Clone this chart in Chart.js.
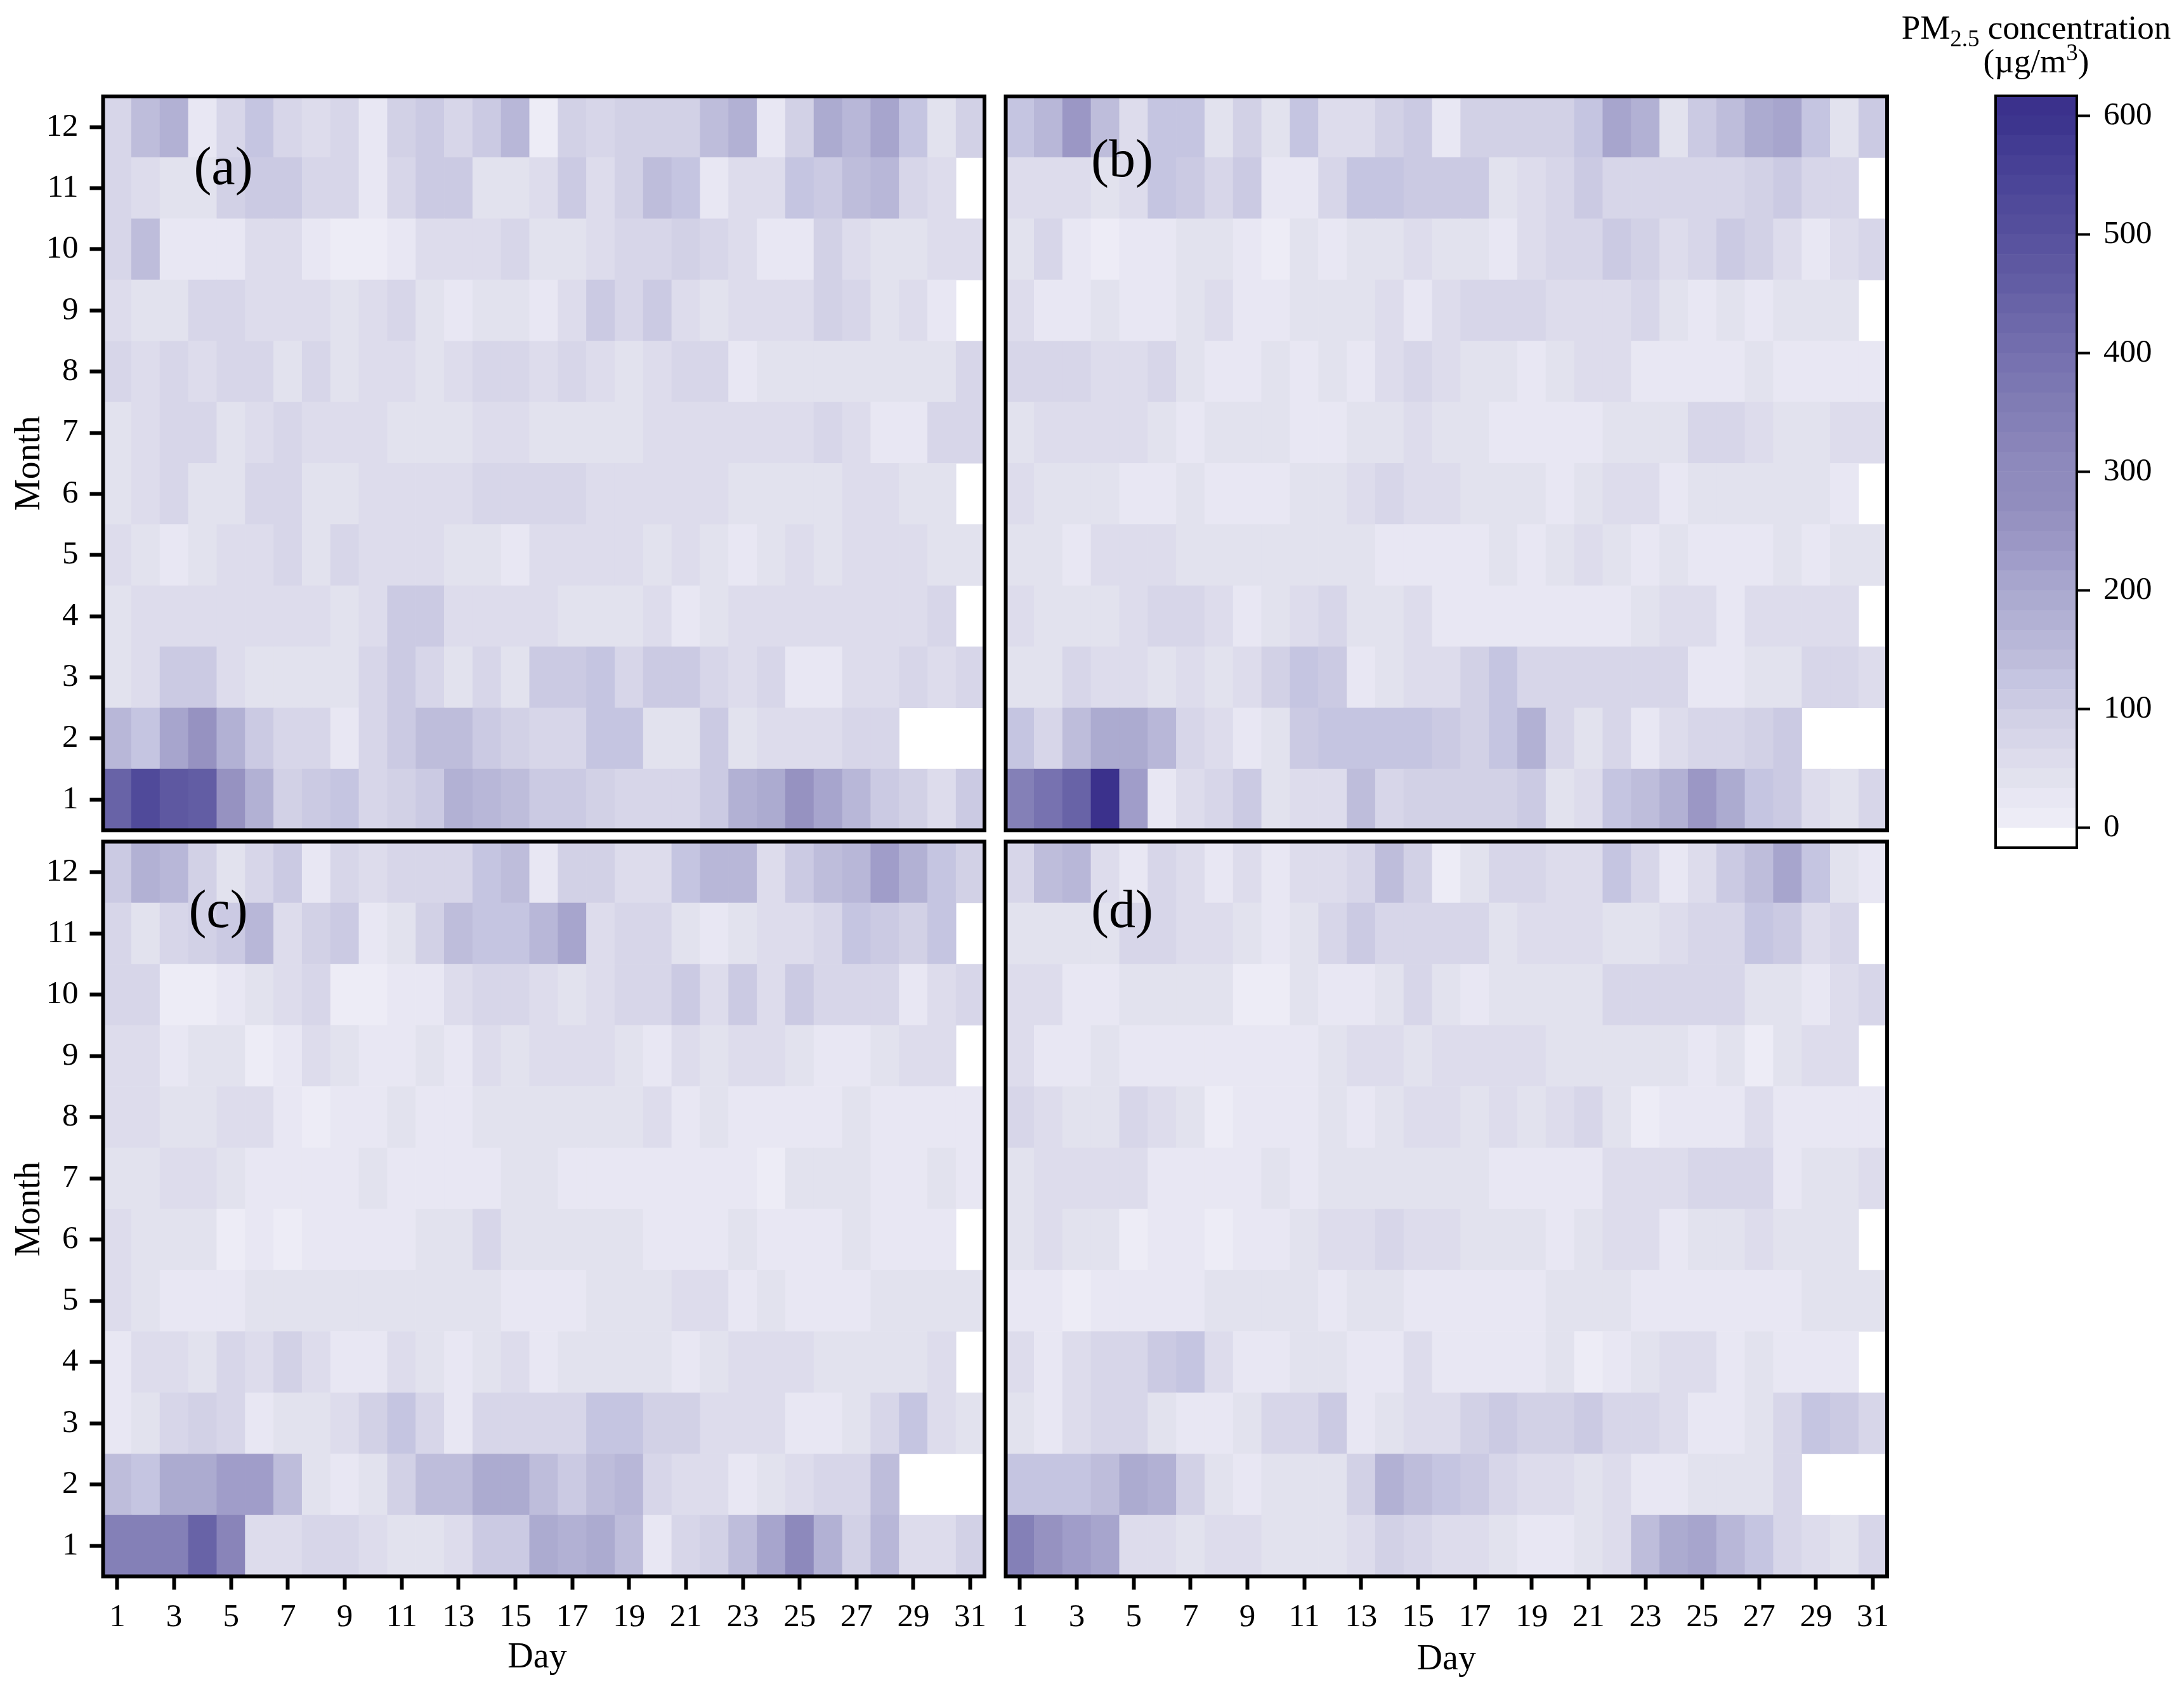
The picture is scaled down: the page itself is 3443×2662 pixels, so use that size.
<!DOCTYPE html>
<html>
<head>
<meta charset="utf-8">
<title>PM2.5 heatmaps</title>
<script src="https://cdn.jsdelivr.net/npm/chart.js@4"></script>
<style>
    html, body { margin: 0; padding: 0; background: #fff; width: 3443px; height: 2662px; overflow: hidden; }
    canvas { position: absolute; }
    #cb-title { position: absolute; left: 2960px; top: 17px; width: 500px; text-align: center;
                font: 53px/53px "Liberation Serif", serif; color: #000; }
    #cb-title sub, #cb-title sup { font-size: 37px; line-height: 0; }
</style>
</head>
<body>
<canvas id="panel-a" width="1570" height="1220" style="left:0;top:100px"></canvas>
<canvas id="panel-b" width="1430" height="1220" style="left:1570px;top:100px"></canvas>
<canvas id="panel-c" width="1570" height="1346" style="left:0;top:1316px"></canvas>
<canvas id="panel-d" width="1430" height="1346" style="left:1570px;top:1316px"></canvas>
<canvas id="colorbar" width="343" height="1300" style="left:3100px;top:100px"></canvas>
<div id="cb-title">PM<sub>2.5</sub> concentration<br>(&micro;g/m<sup>3</sup>)</div>
<script>
// Axis values
const days = ["1","2","3","4","5","6","7","8","9","10","11","12","13","14","15","16","17","18","19","20","21","22","23","24","25","26","27","28","29","30","31"];
const dayTicks = ["1","3","5","7","9","11","13","15","17","19","21","23","25","27","29","31"];
const months = [1,2,3,4,5,6,7,8,9,10,11,12];
const colorbarTicks = [0,100,200,300,400,500,600];
const bandSize = 16.67;

// PM2.5 per day, one row per month (January first), null = day does not exist
const panelA = [
    [440,525,480,465,260,175,92,108,128,75,92,112,172,160,145,115,115,95,68,70,70,115,175,200,265,210,160,112,90,55,112],
    [165,128,215,262,175,102,70,70,22,68,112,150,150,112,90,68,68,120,128,48,48,102,38,60,60,60,75,75,null,null,null],
    [38,52,102,102,60,42,42,42,42,82,105,68,48,78,45,102,102,120,75,102,112,80,52,75,22,22,52,52,75,52,70],
    [38,52,52,52,60,60,60,60,42,52,105,105,52,52,52,52,38,38,38,52,22,38,55,55,60,55,55,55,52,68,null],
    [60,45,22,38,52,58,68,45,68,52,52,52,36,36,22,52,52,52,52,38,52,38,22,38,55,38,52,52,52,45,45],
    [42,52,68,38,38,68,68,38,38,55,55,55,55,75,68,68,68,55,55,55,55,55,45,45,45,45,55,55,45,45,null],
    [40,58,68,68,40,55,68,55,55,55,42,42,42,52,52,42,42,42,42,52,52,52,52,52,52,68,55,30,30,68,68],
    [68,55,68,52,70,70,38,68,42,52,52,38,55,68,80,58,68,55,42,52,78,68,25,42,42,42,42,35,35,42,68],
    [52,40,40,68,68,55,55,55,42,55,68,42,25,42,42,25,52,105,68,102,55,40,55,55,55,88,68,45,55,25,null],
    [67,145,25,25,25,55,55,25,8,8,22,55,55,55,68,42,42,52,70,70,95,67,52,25,25,88,52,45,45,58,58],
    [75,55,40,40,95,105,105,75,80,25,68,105,105,40,40,52,105,60,95,145,122,25,52,52,120,108,135,160,67,52,null],
    [75,142,175,25,80,125,75,58,67,25,92,102,67,108,158,10,88,67,85,95,95,145,175,25,90,192,165,208,125,42,88]
];
const panelB = [
    [350,385,450,610,220,25,52,68,102,42,55,55,135,68,85,85,85,85,102,42,52,120,148,175,240,185,128,102,55,42,68],
    [120,78,145,190,200,155,67,55,25,38,102,130,130,130,120,108,95,120,175,70,42,67,25,52,68,68,85,102,null,null,null],
    [38,38,68,52,52,42,52,42,55,95,128,102,25,38,52,52,90,122,67,67,75,75,67,67,25,25,42,42,78,78,55],
    [52,42,42,42,52,68,78,55,25,38,55,67,42,42,52,25,25,25,25,25,25,25,38,52,52,25,55,55,55,55,null],
    [45,45,25,52,52,52,42,42,42,42,42,42,42,25,25,25,25,38,25,38,52,38,25,38,25,25,25,38,25,40,40],
    [52,42,42,42,25,25,38,25,25,25,42,42,55,68,55,55,42,42,42,25,38,55,55,25,42,42,42,42,42,25,null],
    [38,52,52,52,52,38,25,42,42,42,25,25,42,42,52,40,40,25,25,25,25,42,38,38,68,68,52,42,42,52,52],
    [67,67,67,58,58,68,38,25,25,36,25,38,25,52,67,52,42,42,25,42,52,52,25,25,25,25,38,25,25,25,25],
    [52,25,25,35,25,25,38,55,25,25,42,42,42,52,22,52,67,67,67,55,55,55,68,38,25,38,25,42,42,42,null],
    [48,78,18,5,25,25,42,42,18,8,42,20,42,42,52,38,38,25,52,68,78,102,85,55,68,102,85,52,25,52,68],
    [60,52,52,38,58,122,102,67,102,25,25,70,128,128,105,102,115,42,52,67,105,67,67,75,75,75,95,112,78,78,null],
    [122,160,245,145,55,120,120,42,85,42,120,55,55,85,105,25,85,85,85,85,128,215,172,42,102,140,185,205,128,42,102]
];
const panelC = [
    [345,345,345,440,320,55,55,68,68,52,42,42,52,102,102,195,178,195,138,25,67,95,150,215,315,178,92,162,58,58,85],
    [140,128,190,190,230,232,135,38,25,38,85,138,150,188,188,138,102,135,165,67,52,52,25,38,52,68,70,135,null,null,null],
    [25,38,68,95,78,25,40,40,52,85,118,80,25,67,67,82,82,120,120,85,85,52,58,52,25,25,48,68,120,52,40],
    [25,52,55,48,68,60,92,52,25,25,52,40,25,40,52,25,40,40,40,40,25,38,52,52,52,40,48,40,40,52,null],
    [52,40,25,25,25,40,40,40,40,40,40,40,40,40,25,25,25,40,40,40,52,52,25,38,25,25,25,40,40,40,40],
    [52,40,40,40,12,25,12,25,25,25,25,38,38,68,40,40,40,40,40,25,25,25,38,25,25,25,38,25,25,25,null],
    [40,40,52,52,40,25,25,25,25,38,25,25,25,25,40,40,25,25,25,25,25,25,25,15,40,40,40,25,25,38,25],
    [52,52,40,40,55,55,25,15,25,25,38,25,25,40,40,40,40,40,40,55,25,40,25,25,25,25,38,18,18,18,25],
    [58,58,25,42,42,10,22,52,40,25,25,42,25,52,40,55,55,55,40,25,52,40,60,52,38,25,25,40,60,52,null],
    [75,75,10,10,18,42,52,75,10,10,25,25,55,70,70,52,40,52,67,78,102,58,102,60,102,70,70,80,25,55,67],
    [78,38,68,85,110,160,55,90,108,25,38,88,135,125,125,155,205,55,67,67,48,25,38,52,52,68,120,102,85,122,null],
    [102,172,160,85,40,75,102,25,68,52,78,78,78,122,140,25,85,85,52,60,122,160,160,52,108,138,160,232,168,128,95]
];
const panelD = [
    [340,265,232,205,55,55,40,52,52,42,42,42,52,95,70,55,55,38,25,25,40,52,140,190,205,160,120,67,52,40,68],
    [125,125,125,150,190,172,85,38,25,42,42,42,85,178,150,125,102,67,55,55,40,52,25,25,40,40,40,68,null,null,null],
    [40,25,52,67,67,40,25,25,38,82,82,102,25,38,52,52,85,102,85,85,102,82,82,52,25,25,38,67,122,102,80],
    [52,25,52,68,68,102,122,55,25,25,40,40,25,25,52,25,25,25,25,40,8,25,38,52,52,25,38,25,25,25,null],
    [25,25,15,25,25,25,25,42,42,42,42,25,40,40,25,25,25,25,25,40,48,48,25,25,25,25,25,25,40,40,40],
    [40,52,38,38,10,25,25,10,25,25,42,52,52,78,52,52,40,40,40,25,40,52,52,25,40,40,52,42,42,42,null],
    [40,52,52,52,52,25,25,25,25,38,25,40,40,40,40,40,40,25,25,25,25,52,52,52,78,78,67,25,42,42,52],
    [68,52,40,40,68,52,40,12,25,25,25,38,25,40,52,52,40,52,38,55,68,38,12,25,25,25,52,25,18,18,25],
    [52,25,25,36,25,25,25,25,25,25,25,38,55,55,38,52,52,52,52,40,38,38,48,38,22,38,15,42,55,55,null],
    [52,52,25,25,40,40,40,40,10,10,40,25,25,38,68,38,25,40,40,40,38,68,68,68,78,78,40,40,25,52,68],
    [48,40,40,48,78,68,52,52,38,25,40,68,102,82,82,82,67,40,55,55,55,40,40,52,68,68,120,102,52,68,null],
    [78,150,162,55,22,68,52,25,52,25,55,55,68,138,85,10,42,68,68,55,55,122,68,25,55,102,135,205,125,42,25]
];

// Discrete colour bands, lowest first, each bandSize wide starting at 0
const bandColors = ["#edecf6","#e8e7f3","#e2e2ee","#dddcec","#d7d6e9","#d2d1e6","#cbcae3","#c5c5e1","#bebddb","#b8b7d8",
    "#b2b1d4","#acabd0","#a7a5cd","#a09dc9","#9b97c5","#9692c1","#918dbe","#8f8bbd","#8d89bc","#8984b9","#8480b7","#807cb4",
    "#7b77b2","#7772b0","#726dad","#6d68aa","#6863a7","#625da4","#5e58a1","#59539f","#544e9c","#504a9a","#4b4598","#474095",
    "#423b92","#3d358e","#3b318c"];

Chart.defaults.font.family = '"Liberation Serif", serif';
Chart.defaults.color = "#000";

function colorFor(v) {
    if (v === null) return "#fff";
    return bandColors[Math.min(Math.floor(v / bandSize), bandColors.length - 1)];
}

// Black frame round the plot, the (a)-(d) tag, and the off-centre Day label of panel c
const framePlugin = {
    id: "frame",
    afterDraw(chart, args, opts) {
        const { ctx, chartArea: a } = chart;
        ctx.save();
        ctx.strokeStyle = "#000";
        ctx.lineWidth = opts.width;
        ctx.strokeRect(a.left, a.top, a.right - a.left, a.bottom - a.top);
        ctx.fillStyle = "#000";
        ctx.textAlign = "center";
        ctx.textBaseline = "middle";
        if (opts.tag) {
            ctx.font = '84px "Liberation Serif", serif';
            ctx.fillText(opts.tag, opts.tagX, opts.tagY);
        }
        if (opts.dayX) {
            ctx.font = '56px "Liberation Serif", serif';
            ctx.fillText("Day", opts.dayX, opts.dayY);
        }
        ctx.restore();
    }
};

const tickGrid = { drawOnChartArea: false, drawTicks: true, tickLength: 21, tickWidth: 6, tickColor: "#000", offset: false };

function fixedSize(prop, size) {
    return function (scale) {
        scale[prop] = size;
        scale.paddingLeft = scale.paddingRight = scale.paddingTop = scale.paddingBottom = 0;
    };
}

function drawPanel(id, rows, opt) {
    const datasets = rows.map((row, i) => ({
        data: row.map(v => v === null ? null : [months[i] - 0.5, months[i] + 0.5]),
        backgroundColor: row.map(colorFor),
        borderWidth: 0,
        barPercentage: 1,
        categoryPercentage: 1
    }));
    new Chart(document.getElementById(id), {
        type: "bar",
        data: { labels: days, datasets: datasets },
        options: {
            responsive: false,
            devicePixelRatio: 1,
            animation: false,
            events: [],
            layout: { padding: opt.padding },
            datasets: { bar: { grouped: false } },
            plugins: {
                legend: { display: false },
                tooltip: { enabled: false },
                frame: { width: 6, tag: opt.tag, tagX: opt.tagX, tagY: opt.tagY, dayX: opt.dayX, dayY: opt.dayY }
            },
            scales: {
                x: {
                    display: opt.showX,
                    grid: tickGrid,
                    border: { display: false },
                    afterBuildTicks: s => { s.ticks = s.ticks.filter(t => dayTicks.includes(days[t.value])); },
                    afterFit: fixedSize("height", opt.showX ? 177.5 : 0),
                    ticks: { autoSkip: false, maxRotation: 0, padding: 14, font: { size: 51 } },
                    title: { display: !opt.dayX, text: "Day", font: { size: 56 }, padding: { top: 0, bottom: 12 } }
                },
                y: {
                    display: opt.showY,
                    min: 0.5,
                    max: 12.5,
                    grid: tickGrid,
                    border: { display: false },
                    afterBuildTicks: s => { s.ticks = months.map(m => ({ value: m })); },
                    afterFit: fixedSize("width", opt.showY ? 162.5 : 0),
                    ticks: { padding: 18, font: { size: 51 } },
                    title: { display: true, text: "Month", font: { size: 56 }, padding: { top: 14, bottom: 0 } }
                }
            }
        },
        plugins: [framePlugin]
    });
}

drawPanel("panel-a", panelA, { showX: false, showY: true, tag: "(a)", tagX: 352, tagY: 168,
    padding: { left: 0, right: 18, top: 52, bottom: 11.5 } });
drawPanel("panel-b", panelB, { showX: false, showY: false, tag: "(b)", tagX: 199, tagY: 156,
    padding: { left: 15.5, right: 25, top: 52, bottom: 11.5 } });
drawPanel("panel-c", panelC, { showX: true, showY: true, tag: "(c)", tagX: 344, tagY: 123, dayX: 847, dayY: 1297,
    padding: { left: 0, right: 18, top: 10.5, bottom: 0 } });
drawPanel("panel-d", panelD, { showX: true, showY: false, tag: "(d)", tagX: 199, tagY: 123,
    padding: { left: 15.5, right: 25, top: 10.5, bottom: 0 } });

// Colour bar: one floating bar per band, plus the white under-range band
const colorbarSets = [{ data: [[-bandSize, 0]], backgroundColor: "#fff" }].concat(
    bandColors.map((c, i) => ({ data: [[i * bandSize, (i + 1) * bandSize]], backgroundColor: c }))
);
new Chart(document.getElementById("colorbar"), {
    type: "bar",
    data: { labels: [""], datasets: colorbarSets },
    options: {
        responsive: false,
        devicePixelRatio: 1,
        animation: false,
        events: [],
        layout: { padding: { left: 46, right: 0, top: 51, bottom: 64 } },
        datasets: { bar: { grouped: false, barPercentage: 1, categoryPercentage: 1, borderWidth: 0 } },
        plugins: { legend: { display: false }, tooltip: { enabled: false }, frame: { width: 4 } },
        scales: {
            x: { display: false },
            y: {
                position: "right",
                min: -bandSize,
                max: 37 * bandSize,
                grid: { drawOnChartArea: false, drawTicks: true, tickLength: 21, tickWidth: 4, tickColor: "#000" },
                border: { display: false },
                afterBuildTicks: s => { s.ticks = colorbarTicks.map(v => ({ value: v })); },
                afterFit: fixedSize("width", 169),
                ticks: { padding: 21, font: { size: 51 } }
            }
        }
    },
    plugins: [framePlugin]
});
</script>
</body>
</html>
